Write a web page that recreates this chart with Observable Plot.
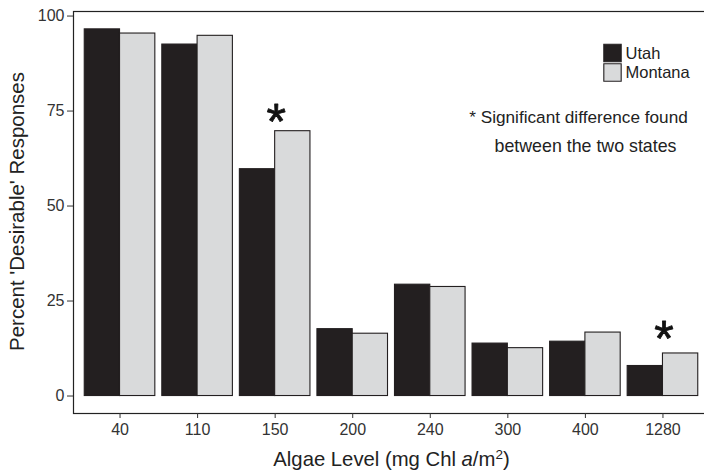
<!DOCTYPE html>
<html>
<head>
<meta charset="utf-8">
<script src="https://cdn.jsdelivr.net/npm/d3@7"></script>
<script src="https://cdn.jsdelivr.net/npm/@observablehq/plot@0.6"></script>
<style>
  html, body { margin: 0; padding: 0; background: #fff; overflow: hidden; width: 704px; height: 470px; }
  #chart { width: 709px; }
  #chart svg { display: block; max-width: none !important; }
</style>
</head>
<body>
<div id="chart"></div>
<script>
// ---- data ----
const levels = ["40", "110", "150", "200", "240", "300", "400", "1280"];
const utah = [96.5, 92.5, 59.7, 17.6, 29.3, 13.8, 14.3, 7.9];
const montana = [95.4, 94.8, 69.7, 16.4, 28.7, 12.6, 16.7, 11.2];
const states = ["Utah", "Montana"];
const stateColors = ["#231f20", "#d9dadb"];
const starLevels = ["150", "1280"];
const starValues = [74.5, 17.4];
const yTicks = [0, 25, 50, 75, 100];
const noteLines = ["* Significant difference found", "between the two states"];
const xTitle = "Algae Level (mg Chl a/m2)";
const yTitle = "Percent 'Desirable' Responses";

// ---- layout ----
const W = 709, H = 470, mL = 73, mR = 0, mT = 11, mB = 57;
const pIn = 0.09, pOut = 0.145;
const step = (W - mL - mR) / (levels.length - pIn + 2 * pOut);
const half = step * (1 - pIn) / 2;

const utahRows = levels.map((l, i) => ({level: l, state: states[0], value: utah[i]}));
const montanaRows = levels.map((l, i) => ({level: l, state: states[1], value: montana[i]}));
const stars = starLevels.map((l, i) => ({level: l, value: starValues[i]}));

const font = "'Liberation Sans', Arial, Helvetica, sans-serif";
const ink = "#231f20";
const txt = {textAnchor: "middle", lineAnchor: "middle", fill: "#222"};

const chart = Plot.plot({
  width: W, height: H,
  marginLeft: mL, marginRight: mR, marginTop: mT, marginBottom: mB,
  style: {fontFamily: font, fontSize: "16px", background: "#fff", color: "#222", maxWidth: "none", height: H + "px"},
  x: {type: "band", domain: levels, paddingInner: pIn, paddingOuter: pOut, round: false, label: null},
  y: {domain: [-4.6, 101.2], label: null},
  color: {domain: states, range: stateColors},
  marks: [
    Plot.barY(utahRows, {x: "level", y: "value", fill: "state", stroke: ink, strokeWidth: 1.1, insetRight: half}),
    Plot.barY(montanaRows, {x: "level", y: "value", fill: "state", stroke: ink, strokeWidth: 1.1, insetLeft: half}),
    Plot.frame({stroke: "#222", strokeWidth: 1.2}),
    Plot.axisY({ticks: yTicks, tickSize: 6, tickPadding: 3, fontSize: 16, color: "#333", label: null}),
    Plot.axisX({tickSize: 5, tickPadding: 5, fontSize: 16, color: "#333", label: null}),
    Plot.text(stars, {x: "level", y: "value", text: () => "*", fontSize: 50, dx: 1, dy: 10, fill: "#111", stroke: "#111", strokeWidth: 0.8}),
    // legend
    Plot.dot([states[0]], {frameAnchor: "top-left", dx: 539, dy: 41.5, symbol: "square", r: 9.8, fill: stateColors[0], stroke: ink, strokeWidth: 1.1}),
    Plot.dot([states[1]], {frameAnchor: "top-left", dx: 539, dy: 61, symbol: "square", r: 9.8, fill: stateColors[1], stroke: ink, strokeWidth: 1.1}),
    Plot.text([states[0]], {...txt, frameAnchor: "top-left", dx: 552, dy: 42, text: d => d, textAnchor: "start", fontSize: 16.5}),
    Plot.text([states[1]], {...txt, frameAnchor: "top-left", dx: 552, dy: 61.5, text: d => d, textAnchor: "start", fontSize: 16.5}),
    // note
    Plot.text([noteLines[0]], {...txt, frameAnchor: "top-left", dx: 505, dy: 106, text: d => d, fontSize: 17.2}),
    Plot.text([noteLines[1]], {...txt, frameAnchor: "top-left", dx: 512, dy: 134.5, text: d => d, fontSize: 17.8}),
    // axis titles
    Plot.text([yTitle], {...txt, frameAnchor: "left", dx: -56, dy: -1, rotate: -90, text: d => d, fontSize: 20.5}),
    Plot.text([xTitle], {...txt, frameAnchor: "bottom", dx: 0, dy: 46, text: d => d, fontSize: 20.3})
  ]
});

// rich formatting of the x title (italic a, superscript 2)
for (const t of chart.querySelectorAll("text")) {
  if (t.textContent === xTitle) {
    t.textContent = "";
    const ns = "http://www.w3.org/2000/svg";
    const add = (s, attrs = {}) => {
      const ts = document.createElementNS(ns, "tspan");
      ts.textContent = s;
      for (const k in attrs) ts.setAttribute(k, attrs[k]);
      t.appendChild(ts);
    };
    add("Algae Level (mg Chl ");
    add("a", {"font-style": "italic"});
    add("/m");
    add("2", {"font-size": 13.5, dy: -7.5});
    add(")", {dy: 7.5});
  }
}

document.getElementById("chart").appendChild(chart);
</script>
</body>
</html>
